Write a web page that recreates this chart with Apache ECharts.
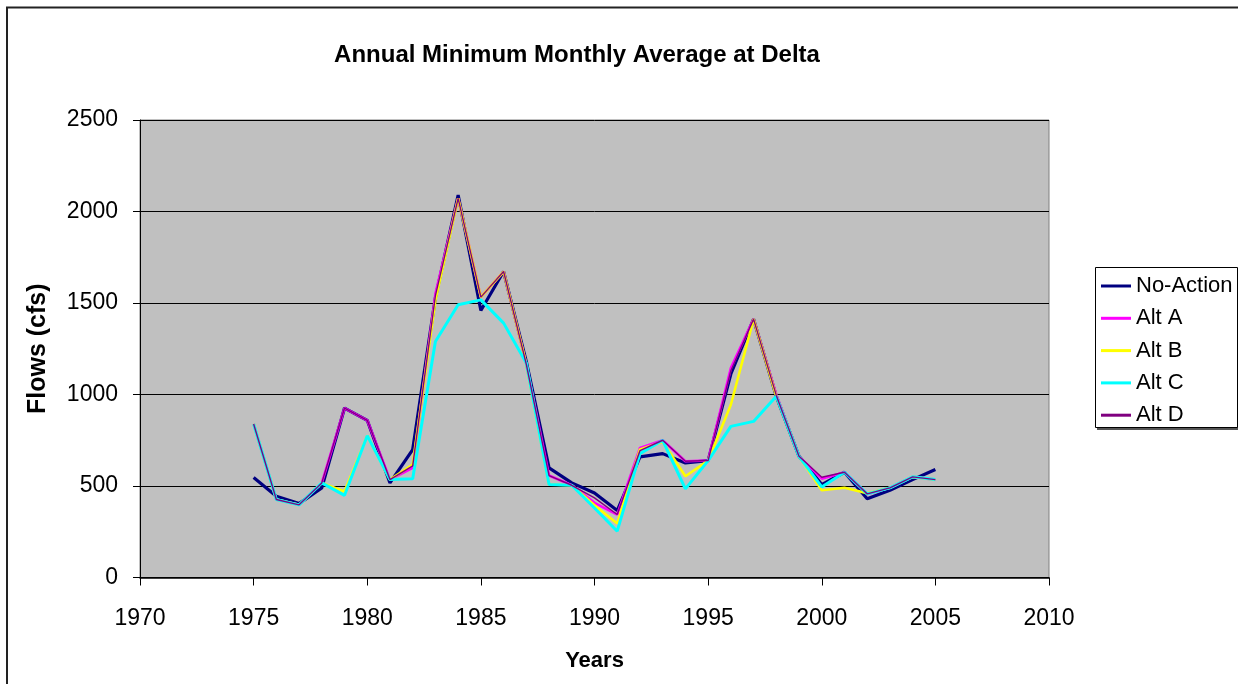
<!DOCTYPE html>
<html>
<head>
<meta charset="utf-8">
<script src="https://cdn.jsdelivr.net/npm/echarts@6/dist/echarts.min.js"></script>
<style>html,body{margin:0;padding:0;background:#fff}#c{width:1238px;height:684px}</style>
</head>
<body>
<div id="c"></div>
<script>
const years = [1975,1976,1977,1978,1979,1980,1981,1982,1983,1984,1985,1986,1987,1988,1989,1990,1991,1992,1993,1994,1995,1996,1997,1998,1999,2000,2001,2002,2003,2004,2005];
const noAction = [547,444,404,490,926,859,517,699,1530,2090,1459,1672,1180,599,517,462,366,659,677,626,639,1112,1412,990,662,508,575,430,477,535,590];
const altA = [839,426,397,517,926,859,535,599,1550,2072,1532,1672,1165,557,504,408,344,708,750,635,639,1144,1412,999,662,540,575,457,490,550,535];
const altB = [839,426,397,517,470,775,535,617,1515,2072,1532,1672,1165,508,504,395,295,700,742,553,639,944,1412,990,662,477,490,460,490,550,535];
const altC = [839,426,397,517,449,775,535,540,1290,1490,1517,1390,1172,508,504,380,253,677,750,484,639,826,853,990,662,495,575,457,490,550,535];
const altD = [839,426,397,517,926,859,535,610,1540,2072,1532,1672,1165,557,504,435,344,693,750,635,639,1130,1412,995,662,548,575,457,490,550,535];
const seriesNames = ['No-Action','Alt A','Alt B','Alt C','Alt D'];
const xTicks = [1970,1975,1980,1985,1990,1995,2000,2005,2010];
const yTicks = [0,500,1000,1500,2000,2500];

const font = 'Arial, "Liberation Sans", sans-serif';
const pair = arr => years.map((y,i)=>[y,arr[i]]);
const styles = [
  {color:'#000080', width:3.2},
  {color:'#FF00FF', width:2.6},
  {color:'#FFFF00', width:2.6},
  {color:'#00FFFF', width:3},
  {color:'#800080', width:1.4}
];
const dataSets = [noAction, altA, altB, altC, altD];

const chart = echarts.init(document.getElementById('c'), null, {renderer:'canvas'});
chart.setOption({
  animation:false,
  backgroundColor:'#fff',
  title:{
    text:'Annual Minimum Monthly Average at Delta',
    left:572, top:38, textAlign:'center',
    textStyle:{fontFamily:font, fontWeight:'bold', fontSize:24, color:'#000'}
  },
  graphic:[
    {type:'rect', shape:{x:7, y:7.5, width:1400, height:900}, style:{fill:'none', stroke:'#222', lineWidth:2}, silent:true, z:0},
    {type:'rect', shape:{x:1097, y:269, width:142, height:161}, style:{fill:'#555'}, silent:true, z:0},
    {type:'rect', shape:{x:1095.5, y:267.5, width:142, height:160}, style:{fill:'#fff', stroke:'#000', lineWidth:1}, silent:true, z:1}
  ],
  legend:{
    orient:'vertical', left:1101, top:275, padding:0, itemGap:10.3,
    itemWidth:30, itemHeight:3, icon:'rect',
    data:seriesNames,
    textStyle:{fontFamily:font, fontSize:22, color:'#000', lineHeight:22},
    z:5
  },
  grid:{left:140, right:189, top:120, bottom:106.5, show:true, backgroundColor:'#C0C0C0', borderColor:'#808080', borderWidth:1},
  xAxis:{
    type:'value', min:xTicks[0], max:xTicks[xTicks.length-1], interval:5,
    name:'Years', nameLocation:'middle', nameGap:72,
    nameTextStyle:{fontFamily:font, fontWeight:'bold', fontSize:22, color:'#000'},
    axisLine:{show:true, onZero:false, lineStyle:{color:'#000', width:1.5}},
    axisTick:{show:true, inside:false, length:8, lineStyle:{color:'#000'}},
    axisLabel:{fontFamily:font, fontSize:23, color:'#000', margin:30, formatter: v=>String(v)},
    splitLine:{show:false}
  },
  yAxis:{
    type:'value', min:yTicks[0], max:yTicks[yTicks.length-1], interval:500,
    name:'Flows (cfs)', nameLocation:'middle', nameGap:89, nameRotate:90,
    nameTextStyle:{fontFamily:font, fontWeight:'bold', fontSize:25, color:'#000'},
    axisLine:{show:true, lineStyle:{color:'#000', width:1}},
    axisTick:{show:true, inside:false, length:7, lineStyle:{color:'#000'}},
    axisLabel:{fontFamily:font, fontSize:23, color:'#000', margin:22, formatter: v=>String(v)},
    splitLine:{show:true, lineStyle:{color:'#000', width:1}}
  },
  series: seriesNames.map((n,i)=>({
    name:n, type:'line', data:pair(dataSets[i]), symbol:'none', showSymbol:false,
    color:styles[i].color,
    lineStyle:{color:styles[i].color, width:styles[i].width},
    z:2+i
  }))
});
</script>
</body>
</html>
